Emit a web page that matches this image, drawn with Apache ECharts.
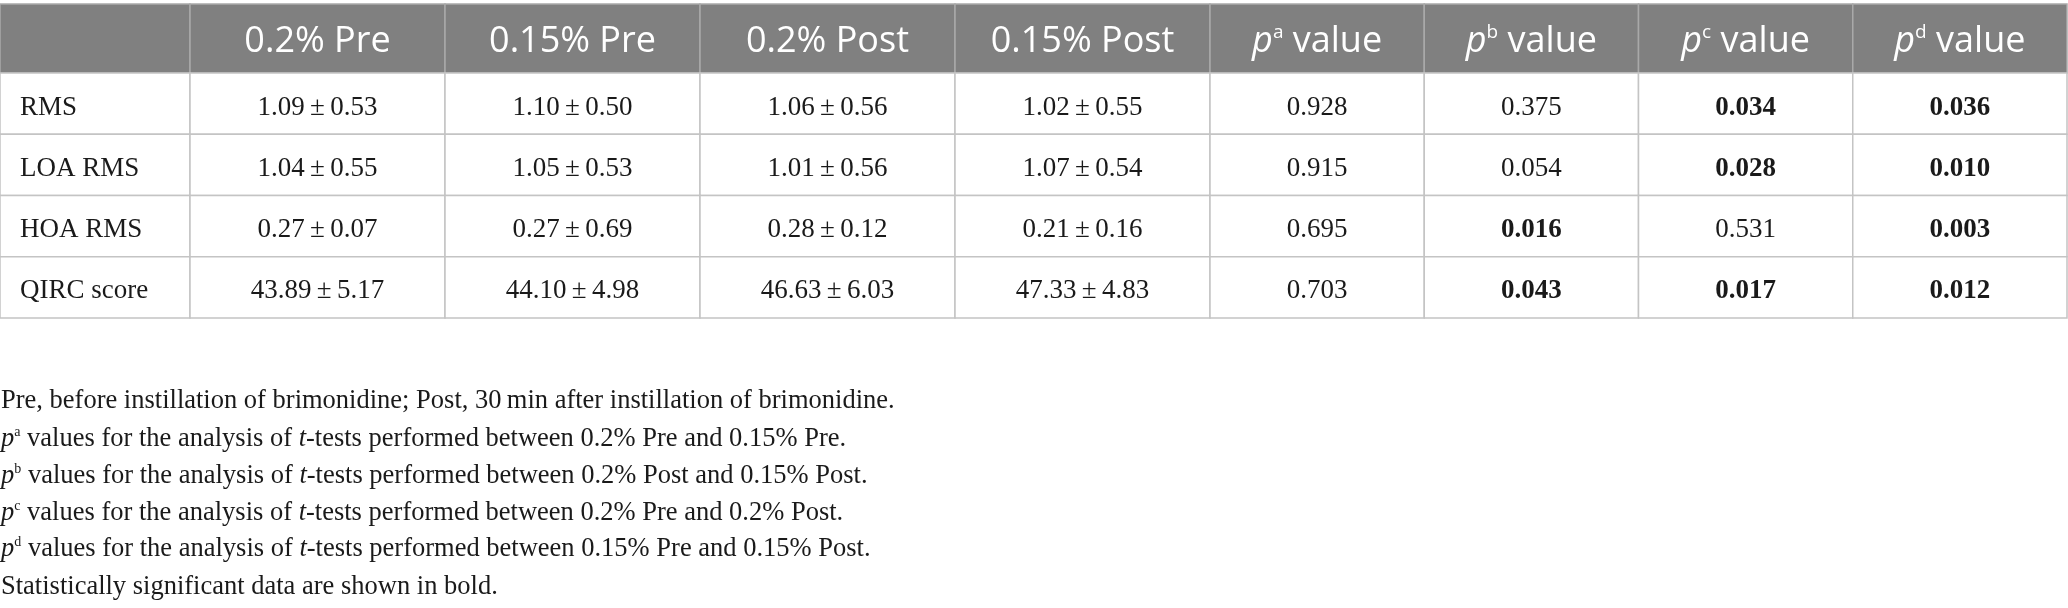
<!DOCTYPE html>
<html>
<head>
<meta charset="utf-8">
<script src="https://cdn.jsdelivr.net/npm/echarts@6/dist/echarts.min.js"></script>
<style>
html, body { margin: 0; padding: 0; background: #fff; }
#main { width: 2068px; height: 608px; }
</style>
</head>
<body>
<div id="main"></div>
<script>
// table content
var rowNames = ['RMS', 'LOA RMS', 'HOA RMS', 'QIRC score'];
var groupNames = ['0.2% Pre', '0.15% Pre', '0.2% Post', '0.15% Post'];
var pLetters = ['a', 'b', 'c', 'd'];
var means = [
  [1.09, 1.10, 1.06, 1.02],
  [1.04, 1.05, 1.01, 1.07],
  [0.27, 0.27, 0.28, 0.21],
  [43.89, 44.10, 46.63, 47.33]
];
var sds = [
  [0.53, 0.50, 0.56, 0.55],
  [0.55, 0.53, 0.56, 0.54],
  [0.07, 0.69, 0.12, 0.16],
  [5.17, 4.98, 6.03, 4.83]
];
var pValues = [
  [0.928, 0.375, 0.034, 0.036],
  [0.915, 0.054, 0.028, 0.010],
  [0.695, 0.016, 0.531, 0.003],
  [0.703, 0.043, 0.017, 0.012]
];
var alpha = 0.05;
var notes = [
  'Pre, before instillation of brimonidine; Post, 30\u2009min after instillation of brimonidine.',
  '{pi|p}{sup|a} values for the analysis of {ti|t}-tests performed between 0.2% Pre and 0.15% Pre.',
  '{pi|p}{sup|b} values for the analysis of {ti|t}-tests performed between 0.2% Post and 0.15% Post.',
  '{pi|p}{sup|c} values for the analysis of {ti|t}-tests performed between 0.2% Pre and 0.2% Post.',
  '{pi|p}{sup|d} values for the analysis of {ti|t}-tests performed between 0.15% Pre and 0.15% Post.',
  'Statistically significant data are shown in bold.'
];

var SERIF = '"Liberation Serif", "DejaVu Serif", serif';
var SANS = '"Open Sans", "Noto Sans", sans-serif';
var BODY_FS = 27;
var NOTE_FS = 26.5;

var headStyle = {
  fill: '#808080', stroke: '#a9a9a9', lw: 1.5, color: '#ffffff',
  size: 36, family: SANS, align: 'center', dy: 3,
  rich: {
    n: { fontSize: 36, fontFamily: SANS, color: '#ffffff' },
    pi: { fontSize: 36, fontFamily: SANS, fontStyle: 'italic', color: '#ffffff' },
    sup: { fontSize: 19, fontFamily: SANS, color: '#ffffff', verticalAlign: 'top', lineHeight: 22 }
  }
};
var bodyStyle = {
  fill: '#ffffff', stroke: '#c4c4c4', lw: 1.5, color: '#1a1a1a',
  size: BODY_FS, family: SERIF, align: 'center', dy: 4
};
var nameStyle = {
  fill: '#ffffff', stroke: '#c4c4c4', lw: 1.5, color: '#1a1a1a',
  size: BODY_FS, family: SERIF, align: 'left', pad: 20, dy: 4
};

function cellSeries(gridIdx, cells, st) {
  return {
    type: 'custom',
    xAxisIndex: gridIdx,
    yAxisIndex: gridIdx,
    silent: true,
    data: cells.map(function (c) { return [c.col, c.row]; }),
    renderItem: function (params, api) {
      var cell = cells[params.dataIndex];
      var p = api.coord([api.value(0), api.value(1)]);
      var s = api.size([1, 1]);
      var x0 = p[0] - s[0] / 2, y0 = p[1] - s[1] / 2;
      var tx = st.align === 'left' ? x0 + st.pad : p[0];
      return {
        type: 'group',
        children: [
          { type: 'rect', shape: { x: x0, y: y0, width: s[0], height: s[1] },
            style: { fill: st.fill, stroke: st.stroke, lineWidth: st.lw } },
          { type: 'text',
            style: {
              text: cell.text, x: tx, y: p[1] + st.dy,
              align: st.align, verticalAlign: 'middle',
              textAlign: st.align, textVerticalAlign: 'middle',
              fill: st.color, fontSize: st.size, fontFamily: st.family,
              fontWeight: cell.bold ? 'bold' : 'normal',
              rich: st.rich
            } }
        ]
      };
    }
  };
}

// cells
var headA = [{ col: 0, row: 0, text: '' }];
var headB = groupNames.map(function (g, i) { return { col: i, row: 0, text: g }; });
var headC = pLetters.map(function (l, i) {
  return { col: i, row: 0, text: '{pi|p}{sup|' + l + '}{n| value}' };
});
var bodyA = rowNames.map(function (r, i) { return { col: 0, row: i, text: r }; });
var bodyB = [], bodyC = [];
for (var r = 0; r < rowNames.length; r++) {
  for (var c = 0; c < groupNames.length; c++) {
    bodyB.push({ col: c, row: r, text: means[r][c].toFixed(2) + '\u2009\u00b1\u2009' + sds[r][c].toFixed(2) });
    bodyC.push({ col: c, row: r, text: pValues[r][c].toFixed(3), bold: pValues[r][c] < alpha });
  }
}

// column groups: name column, value columns, p columns
var colLeft = [0, 190, 1210];
var colWidth = [190, 1020, 857];
var headTop = 4, headH = 69, bodyTop = 73, bodyH = 245;

var grids = [], xAxes = [], yAxes = [];
var xCats = [['name'], groupNames, pLetters];
for (var k = 0; k < 6; k++) {
  var g = k % 3, isHead = k < 3;
  grids.push({ left: colLeft[g], width: colWidth[g], top: isHead ? headTop : bodyTop, height: isHead ? headH : bodyH });
  xAxes.push({ type: 'category', gridIndex: k, data: xCats[g], show: false });
  yAxes.push({ type: 'category', gridIndex: k, data: isHead ? ['head'] : rowNames, inverse: true, show: false });
}

var noteGraphics = notes.map(function (t, i) {
  return {
    type: 'text',
    x: 1,
    y: [401, 439, 476, 513, 549, 587][i],
    style: {
      text: t, fill: '#1a1a1a', fontSize: NOTE_FS, fontFamily: SERIF,
      verticalAlign: 'middle', textVerticalAlign: 'middle',
      rich: {
        pi: { fontSize: NOTE_FS, fontFamily: SERIF, fontStyle: 'italic', color: '#1a1a1a' },
        ti: { fontSize: NOTE_FS, fontFamily: SERIF, fontStyle: 'italic', color: '#1a1a1a' },
        sup: { fontSize: 14, fontFamily: SERIF, color: '#1a1a1a', verticalAlign: 'top', lineHeight: 15 }
      }
    }
  };
});

var chart = echarts.init(document.getElementById('main'));
chart.setOption({
  backgroundColor: '#ffffff',
  animation: false,
  grid: grids,
  xAxis: xAxes,
  yAxis: yAxes,
  graphic: noteGraphics,
  series: [
    cellSeries(0, headA, headStyle),
    cellSeries(1, headB, headStyle),
    cellSeries(2, headC, headStyle),
    cellSeries(3, bodyA, nameStyle),
    cellSeries(4, bodyB, bodyStyle),
    cellSeries(5, bodyC, bodyStyle)
  ]
});
</script>
</body>
</html>
